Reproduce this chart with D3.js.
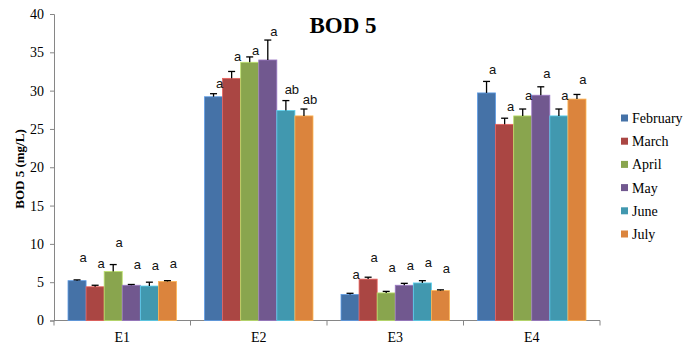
<!DOCTYPE html>
<html>
<head>
<meta charset="utf-8">
<script src="https://cdn.jsdelivr.net/npm/d3@7"></script>
<style>
  body { margin: 0; background: #fff; }
  svg { display: block; }
</style>
</head>
<body>
<div id="chart"></div>
<script>
// === data
var sites = ["E1", "E2", "E3", "E4"];
var months = ["February", "March", "April", "May", "June", "July"];
var colors = ["#4572A7", "#AA4643", "#89A54E", "#71588F", "#4198AF", "#DB843D"];

// mean BOD5 per site, one array per month
var february = [5.2, 29.2, 3.4, 29.7];
var march    = [4.4, 31.6, 5.4, 25.6];
var april    = [6.4, 33.7, 3.6, 26.7];
var may      = [4.6, 34.0, 4.6, 29.4];
var june     = [4.5, 27.4, 4.9, 26.7];
var july     = [5.1, 26.7, 3.9, 28.9];

// upper error (sd) per site
var febErr = [0.1, 0.4, 0.15, 1.5];
var marErr = [0.2, 0.9, 0.25, 0.8];
var aprErr = [0.9, 0.7, 0.2, 0.9];
var mayErr = [0.1, 2.6, 0.25, 1.1];
var junErr = [0.5, 1.3, 0.3, 0.9];
var julErr = [0.1, 0.9, 0.1, 0.6];

// significance letters and the level (mg/L) they sit at
var febLetter = ["a", "a", "a", "a"];
var marLetter = ["a", "a", "a", "a"];
var aprLetter = ["a", "a", "a", "a"];
var mayLetter = ["a", "a", "a", "a"];
var junLetter = ["a", "ab", "a", "a"];
var julLetter = ["a", "ab", "a", "a"];
var febLevel = [8.2, 30.9, 6.0, 32.7];
var marLevel = [7.4, 34.4, 8.2, 27.9];
var aprLevel = [10.2, 35.3, 6.9, 29.4];
var mayLevel = [7.3, 37.7, 7.2, 32.3];
var junLevel = [7.2, 30.2, 7.6, 29.4];
var julLevel = [7.4, 28.8, 6.8, 31.5];

var yTicks = [0, 5, 10, 15, 20, 25, 30, 35, 40];

var values = [february, march, april, may, june, july];
var errors = [febErr, marErr, aprErr, mayErr, junErr, julErr];
var letters = [febLetter, marLetter, aprLetter, mayLetter, junLetter, julLetter];
var levels = [febLevel, marLevel, aprLevel, mayLevel, junLevel, julLevel];

// flatten into one record per bar
var bars = [];
sites.forEach(function(site, i) {
  months.forEach(function(m, j) {
    bars.push({
      site: site, month: m, idx: j,
      value: values[j][i], err: errors[j][i],
      letter: letters[j][i], level: levels[j][i]
    });
  });
});

// === layout
var width = 695, height = 345;
var plotLeft = 54, plotRight = 600, plotTop = 14, plotBottom = 320.5;

var svg = d3.select("#chart").append("svg")
    .attr("width", width)
    .attr("height", height);

var x0 = d3.scaleBand().domain(sites).range([plotLeft, plotRight]).padding(0);
var x1 = d3.scaleBand().domain(months)
    .range([14, x0.bandwidth() - 14]).padding(0);
var y = d3.scaleLinear().domain([0, 40]).range([plotBottom, plotTop]);

var serif = "'Liberation Serif', 'Times New Roman', serif";
var sans = "'Liberation Sans', Arial, sans-serif";

function cx(d) { return x0(d.site) + x1(d.month) + x1.bandwidth() / 2; }

// === axes
var yAxis = svg.append("g")
    .attr("transform", "translate(" + plotLeft + ",0)")
    .call(d3.axisLeft(y).tickValues(yTicks).tickSize(4).tickPadding(6));
yAxis.select(".domain").attr("stroke", "#868686");
yAxis.selectAll(".tick line").attr("stroke", "#868686");
yAxis.selectAll("text")
    .attr("font-family", serif)
    .attr("font-size", 14)
    .attr("fill", "#000");

var xAxis = svg.append("g")
    .attr("transform", "translate(0," + plotBottom + ")");
xAxis.append("line")
    .attr("x1", plotLeft).attr("x2", plotRight)
    .attr("stroke", "#868686");
xAxis.selectAll("line.tk")
    .data(sites.map(function(s) { return x0(s); }).concat([plotRight]))
    .enter().append("line")
    .attr("class", "tk")
    .attr("x1", function(d) { return d; })
    .attr("x2", function(d) { return d; })
    .attr("y1", 0).attr("y2", 5)
    .attr("stroke", "#868686");
xAxis.selectAll("text")
    .data(sites).enter()
    .append("text")
    .attr("x", function(d) { return x0(d) + x0.bandwidth() / 2; })
    .attr("y", 21)
    .attr("text-anchor", "middle")
    .attr("font-family", serif)
    .attr("font-size", 14)
    .text(function(d) { return d; });

// === bars
svg.append("g").selectAll("rect")
    .data(bars).enter()
    .append("rect")
    .attr("x", function(d) { return x0(d.site) + x1(d.month); })
    .attr("y", function(d) { return y(d.value); })
    .attr("width", x1.bandwidth())
    .attr("height", function(d) { return y(0) - y(d.value); })
    .attr("fill", function(d) { return colors[d.idx]; })
    .attr("stroke", function(d) { return d3.color(colors[d.idx]).brighter(0.9); })
    .attr("stroke-width", 0.8);

// === error bars (upper only)
var eb = svg.append("g").attr("stroke", "#000").attr("stroke-width", 1.3);
eb.selectAll("line.v")
    .data(bars).enter()
    .append("line")
    .attr("class", "v")
    .attr("x1", cx)
    .attr("x2", cx)
    .attr("y1", function(d) { return y(d.value); })
    .attr("y2", function(d) { return y(d.value + d.err); });
eb.selectAll("line.c")
    .data(bars).enter()
    .append("line")
    .attr("class", "c")
    .attr("x1", function(d) { return cx(d) - 3.5; })
    .attr("x2", function(d) { return cx(d) + 3.5; })
    .attr("y1", function(d) { return y(d.value + d.err); })
    .attr("y2", function(d) { return y(d.value + d.err); });

// === letters
svg.append("g").selectAll("text")
    .data(bars).enter()
    .append("text")
    .attr("x", function(d) { return cx(d) + 6; })
    .attr("y", function(d) { return y(d.level); })
    .attr("dy", "0.35em")
    .attr("text-anchor", "middle")
    .attr("font-family", sans)
    .attr("font-size", 13)
    .attr("fill", "#111")
    .text(function(d) { return d.letter; });

// === title and y label
svg.append("text")
    .attr("x", 343)
    .attr("y", 33)
    .attr("text-anchor", "middle")
    .attr("font-family", serif)
    .attr("font-weight", "bold")
    .attr("font-size", 23)
    .text("BOD 5");

svg.append("text")
    .attr("transform", "translate(24,169) rotate(-90)")
    .attr("text-anchor", "middle")
    .attr("font-family", serif)
    .attr("font-weight", "bold")
    .attr("font-size", 13)
    .text("BOD 5 (mg/L)");

// === legend
var legend = svg.append("g").selectAll("g")
    .data(months).enter()
    .append("g")
    .attr("transform", function(d, i) { return "translate(621," + (118 + i * 23.2) + ")"; });
legend.append("rect")
    .attr("x", 0).attr("y", -3.5)
    .attr("width", 7).attr("height", 7)
    .attr("fill", function(d, i) { return colors[i]; });
legend.append("text")
    .attr("x", 11)
    .attr("y", 0)
    .attr("dy", "0.35em")
    .attr("font-family", serif)
    .attr("font-size", 14)
    .text(function(d) { return d; });
</script>
</body>
</html>
